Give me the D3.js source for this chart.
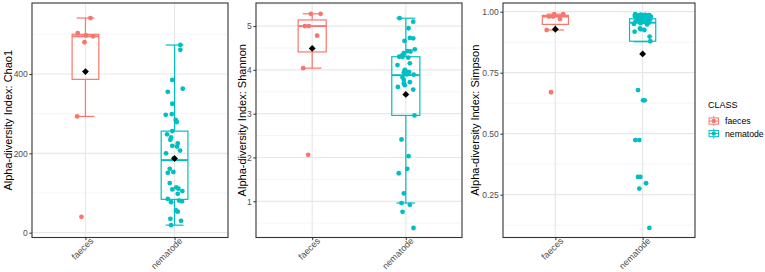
<!DOCTYPE html>
<html>
<head>
<meta charset="utf-8">
<script src="https://cdn.jsdelivr.net/npm/d3@7"></script>
<style>
  body { margin: 0; background: #fff; }
  text { font-family: "Liberation Sans", Arial, sans-serif; }
</style>
</head>
<body>
<svg id="chart" width="765" height="272"></svg>
<script>
// categories and colours
var classes = ["faeces", "nematode"]
var classColors = ["#F8766D", "#00BFC4"]

// Chao1 (jitter in tenths of a category step)
var chao1Faeces = [541, 503, 497, 495, 480, 293, 40]
var chao1FaecesJit = [0.56, -0.87, 0.05, 0.87, -0.11, -0.93, -0.45]
var chao1Nematode = [473, 461, 385, 363, 355, 325, 299, 297, 284, 279,
  256, 248, 240, 234, 225, 219, 217, 207, 200, 187,
  161, 153, 151, 125, 114, 111, 109, 105, 98, 85,
  81, 79, 77, 56, 53, 35, 30, 19]
var chao1NematodeJit = [0.65, 0.65, -0.25, 0.92, -0.76, -0.25, -0.31, -0.99, 0.13, 0.25,
  -0.25, -0.84, -0.39, -0.47, 0.36, -0.25, 0.28, 0.62, -0.96, -0.09,
  -0.54, -0.13, -0.76, -0.54, 0.2, 0.43, -0.25, 0.88, 0.36, -0.76,
  0.51, 0.84, -0.39, 0.17, 0.36, -0.47, 0.73, -0.39]
// [lower whisker, q1, median, q3, upper whisker]
var chao1Box = [[293, 386.5, 495, 500, 541], [19, 84, 183, 256, 473]]
var chao1Mean = [406, 187]
var chao1Ticks = [0, 200, 400]
var chao1Minor = [100, 300, 500]

// Shannon
var shannonFaeces = [5.28, 5.28, 5.00, 5.00, 4.78, 4.04, 2.06]
var shannonFaecesJit = [-0.14, 0.9, -0.78, -0.35, 0.53, -0.96, -0.43]
var shannonNematode = [5.18, 5.10, 4.95, 4.73, 4.72, 4.66, 4.47, 4.43, 4.42, 4.38,
  4.34, 4.30, 4.30, 4.28, 4.15, 4.11, 4.00, 3.96, 3.95, 3.94,
  3.90, 3.89, 3.83, 3.77, 3.72, 3.69, 3.65, 3.61, 3.55, 2.96,
  2.41, 2.03, 1.74, 1.64, 1.18, 0.96, 0.92, 0.76, 0.39]
var shannonNematodeJit = [-0.67, 0.79, 0.29, 0.43, 0.79, -0.14, 0.96, 0.21, 0.5, -0.21,
  -0.35, -0.71, -0.35, 0.26, 0.43, -0.89, -0.11, 0.07, 0.36, -0.21,
  0.11, 0.85, -0.35, -0.21, 0.43, -0.21, -0.11, -0.85, 0.79, 0.93,
  -0.46, 0.29, 0.15, -0.75, -0.21, -0.46, 0.43, -0.35, 0.82]
var shannonBox = [[4.04, 4.41, 5.00, 5.14, 5.28], [0.96, 2.96, 3.88, 4.30, 5.18]]
var shannonMean = [4.49, 3.44]
var shannonTicks = [1, 2, 3, 4, 5]
var shannonMinor = [0.5, 1.5, 2.5, 3.5, 4.5, 5.5]

// Simpson
var simpsonFaeces = [0.99, 0.99, 0.98, 0.98, 0.97, 0.925, 0.67]
var simpsonFaecesJit = [-0.13, 0.9, -0.73, -0.27, 0.53, -1.0, -0.5]
var simpsonNematode = [0.990, 0.988, 0.987, 0.986, 0.985, 0.984, 0.983, 0.982, 0.980, 0.978,
  0.976, 0.975, 0.973, 0.970, 0.968, 0.966, 0.963, 0.960, 0.958, 0.955,
  0.953, 0.950, 0.948, 0.932, 0.928, 0.925, 0.918, 0.898, 0.879, 0.679,
  0.637, 0.637, 0.474, 0.474, 0.323, 0.323, 0.297, 0.275, 0.114]
var simpsonNematodeJit = [-0.85, -0.2, 0.3, 0.75, -0.5, 0.1, 0.55, -0.9, 0.95, -0.3,
  0.2, -0.65, 0.6, -0.05, 0.85, -0.45, 0.35, -0.8, 0.05, 0.7,
  -0.25, -1.0, 0.5, -0.3, -0.23, 0.2, -0.92, 0.8, 0.88, -0.53,
  0.05, 0.23, -0.84, -0.38, -0.53, -0.26, 0.39, -0.38, 0.77]
var simpsonBox = [[0.925, 0.948, 0.98, 0.985, 0.99], [0.877, 0.879, 0.955, 0.971, 0.99]]
var simpsonMean = [0.928, 0.827]
var simpsonTicks = [0.25, 0.5, 0.75, 1.0]
var simpsonMinor = [0.125, 0.375, 0.625, 0.875]

var svg = d3.select("#chart")
var top_ = 3, bottom = 237.5

var panels = [
  {title: "Alpha-diversity Index: Chao1", left: 32, right: 228, titleX: 8,
   domain: [-12.1, 578.9], ticks: chao1Ticks, minor: chao1Minor, fmt: d3.format("d"),
   values: [chao1Faeces, chao1Nematode], jit: [chao1FaecesJit, chao1NematodeJit],
   box: chao1Box, mean: chao1Mean},
  {title: "Alpha-diversity Index: Shannon", left: 256, right: 462, titleX: 242,
   domain: [0.173, 5.527], ticks: shannonTicks, minor: shannonMinor, fmt: d3.format("d"),
   values: [shannonFaeces, shannonNematode], jit: [shannonFaecesJit, shannonNematodeJit],
   box: shannonBox, mean: shannonMean},
  {title: "Alpha-diversity Index: Simpson", left: 503, right: 695, titleX: 475.5,
   domain: [0.0746, 1.0357], ticks: simpsonTicks, minor: simpsonMinor, fmt: d3.format(".2f"),
   values: [simpsonFaeces, simpsonNematode], jit: [simpsonFaecesJit, simpsonNematodeJit],
   box: simpsonBox, mean: simpsonMean}
]

panels.forEach(function(p) {
  var x = d3.scalePoint().domain(classes).range([p.left, p.right]).padding(0.6)
  var y = d3.scaleLinear().domain(p.domain).range([bottom, top_])
  var step = x.step()
  var g = svg.append("g")

  // grid
  g.selectAll(".minor").data(p.minor.filter(d => d > p.domain[0] && d < p.domain[1]))
    .enter().append("line")
    .attr("x1", p.left).attr("x2", p.right)
    .attr("y1", d => y(d)).attr("y2", d => y(d))
    .attr("stroke", "#F0F0F0").attr("stroke-width", 0.7)
  g.selectAll(".major").data(p.ticks)
    .enter().append("line")
    .attr("x1", p.left).attr("x2", p.right)
    .attr("y1", d => y(d)).attr("y2", d => y(d))
    .attr("stroke", "#E8E8E8").attr("stroke-width", 1.2)
  g.selectAll(".vmajor").data(classes)
    .enter().append("line")
    .attr("x1", d => x(d)).attr("x2", d => x(d))
    .attr("y1", top_).attr("y2", bottom)
    .attr("stroke", "#E8E8E8").attr("stroke-width", 1.2)

  // boxes + whiskers (errorbar caps)
  classes.forEach(function(c, i) {
    var b = p.box[i], cx = x(c), col = classColors[i]
    var bw = step * 0.3, cw = step * 0.2
    var bg = g.append("g").attr("stroke", col).attr("stroke-width", 1.2).attr("fill", "none")
    bg.append("line").attr("x1", cx).attr("x2", cx).attr("y1", y(b[3])).attr("y2", y(b[4]))
    bg.append("line").attr("x1", cx).attr("x2", cx).attr("y1", y(b[1])).attr("y2", y(b[0]))
    bg.append("line").attr("x1", cx - cw / 2).attr("x2", cx + cw / 2).attr("y1", y(b[4])).attr("y2", y(b[4]))
    bg.append("line").attr("x1", cx - cw / 2).attr("x2", cx + cw / 2).attr("y1", y(b[0])).attr("y2", y(b[0]))
    bg.append("rect").attr("x", cx - bw / 2).attr("width", bw)
      .attr("y", y(b[3])).attr("height", y(b[1]) - y(b[3]))
    bg.append("line").attr("x1", cx - bw / 2).attr("x2", cx + bw / 2)
      .attr("y1", y(b[2])).attr("y2", y(b[2])).attr("stroke-width", 1.9)
  })

  // jittered points
  classes.forEach(function(c, i) {
    g.selectAll(".pt" + i).data(p.values[i])
      .enter().append("circle")
      .attr("cx", (d, k) => x(c) + p.jit[i][k] * 0.1 * step)
      .attr("cy", d => y(d))
      .attr("r", 2.4)
      .attr("fill", classColors[i])
  })

  // means
  g.selectAll(".mean").data(p.mean)
    .enter().append("path")
    .attr("d", d3.symbol(d3.symbolDiamond2, 30))
    .attr("transform", (d, i) => "translate(" + x(classes[i]) + "," + y(d) + ")")
    .attr("fill", "#000")

  // panel border
  g.append("rect").attr("x", p.left).attr("y", top_)
    .attr("width", p.right - p.left).attr("height", bottom - top_)
    .attr("fill", "none").attr("stroke", "#333333").attr("stroke-width", 1.1)

  // y axis
  var ya = g.append("g").attr("transform", "translate(" + p.left + ",0)")
    .call(d3.axisLeft(y).tickValues(p.ticks).tickFormat(p.fmt).tickSize(2.7).tickPadding(1.5).tickSizeOuter(0))
  ya.select(".domain").remove()
  ya.selectAll("line").attr("stroke", "#333333")
  ya.selectAll("text").attr("fill", "#4D4D4D").style("font-size", "8.5px")

  // x axis
  var xa = g.append("g").attr("transform", "translate(0," + bottom + ")")
    .call(d3.axisBottom(x).tickSize(2.7).tickSizeOuter(0))
  xa.select(".domain").remove()
  xa.selectAll("line").attr("stroke", "#333333")
  xa.selectAll("text")
    .attr("fill", "#4D4D4D").style("font-size", "9px")
    .attr("y", 0).attr("dy", null)
    .attr("text-anchor", "end")
    .attr("transform", "translate(8,4) rotate(-45)")

  // y title
  svg.append("text")
    .attr("transform", "translate(" + p.titleX + "," + ((top_ + bottom) / 2) + ") rotate(-90)")
    .attr("text-anchor", "middle").attr("dy", "0.35em")
    .style("font-size", "11px").attr("fill", "#000")
    .text(p.title)
})

// legend
var legend = svg.append("g").attr("transform", "translate(708,0)")
legend.append("text").attr("x", 0).attr("y", 108.3)
  .style("font-size", "9px").attr("fill", "#000").text("CLASS")
classes.forEach(function(c, i) {
  var ky = 114.8 + i * 12.5, k = 12.5
  var kg = legend.append("g").attr("transform", "translate(-0.5," + ky + ")")
  kg.append("rect").attr("width", k).attr("height", k).attr("fill", "#fff")
  var s = kg.append("g").attr("stroke", classColors[i]).attr("stroke-width", 1).attr("fill", "none")
  s.append("line").attr("x1", k / 2).attr("x2", k / 2).attr("y1", k * 0.1).attr("y2", k * 0.25)
  s.append("line").attr("x1", k / 2).attr("x2", k / 2).attr("y1", k * 0.75).attr("y2", k * 0.9)
  s.append("rect").attr("x", k * 0.125).attr("y", k * 0.25).attr("width", k * 0.75).attr("height", k * 0.5)
  s.append("line").attr("x1", k * 0.125).attr("x2", k * 0.875).attr("y1", k / 2).attr("y2", k / 2)
  kg.append("circle").attr("cx", k / 2).attr("cy", k / 2).attr("r", 2.2).attr("fill", classColors[i])
  legend.append("text").attr("x", 17).attr("y", ky + k / 2).attr("dy", "0.35em")
    .style("font-size", "8.7px").attr("fill", "#000").text(c)
})
</script>
</body>
</html>
